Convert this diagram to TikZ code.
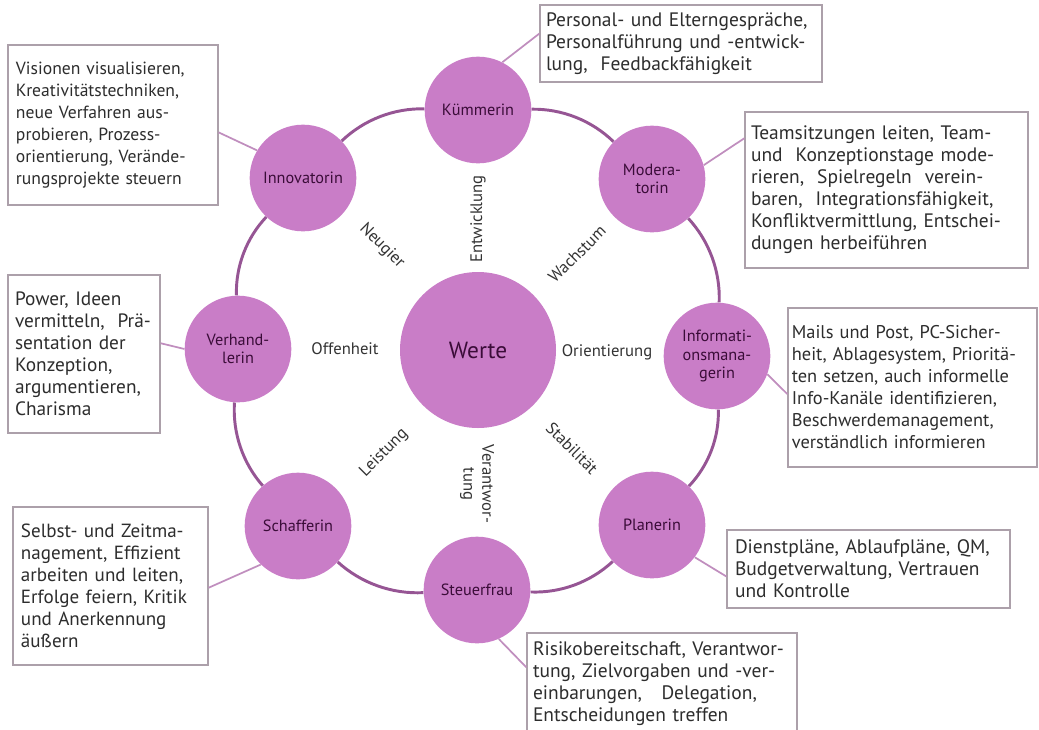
\documentclass[tikz,border=0pt]{standalone}
\usepackage{fontspec}
\setmainfont{PT Sans}
\definecolor{circfill}{RGB}{201,125,199}
\definecolor{ringcol}{RGB}{150,85,148}
\definecolor{linkcol}{RGB}{192,142,190}
\definecolor{boxcol}{RGB}{172,160,170}
\definecolor{circtext}{RGB}{58,12,56}
\definecolor{boxtext}{RGB}{45,45,45}
\tikzset{
  role/.style={circle, fill=circfill, minimum size=80pt, inner sep=0pt, text=circtext,
    font=\fontsize{12.2}{14}\selectfont, align=center},
  core/.style={circle, fill=circfill, minimum size=117pt, inner sep=0pt, text=circtext,
    font=\fontsize{17.5}{20}\selectfont},
  infobox/.style={draw=boxcol, line width=1pt, text=boxtext, fill=white,
    font=\fontsize{14.6}{16.5}\selectfont, align=left, inner sep=0pt},
  spoke/.style={text=black!80, font=\fontsize{12.5}{14}\selectfont, align=center, inner sep=1pt},
  ring/.style={draw=ringcol, line width=2.2pt, bend left=22.5, looseness=0.885},
  link/.style={draw=linkcol, line width=1.3pt},
}
\begin{document}
\begin{tikzpicture}[x=0.75pt, y=-0.75pt]
\useasboundingbox (0,0) rectangle (1039,729);

% centre
\node[core] (werte) at (478,350) {Werte};

% roles
\node[role] (kum) at (478,110) {Kümmerin};
\node[role] (mod) at (652,179) {Modera-\\torin};
\node[role] (inf) at (717,356) {Informati-\\onsmana-\\gerin};
\node[role] (pla) at (652,525) {Planerin};
\node[role] (ste) at (477,590) {Steuerfrau};
\node[role] (sch) at (298,526) {Schafferin};
\node[role] (ver) at (238,349) {Verhand-\\lerin};
\node[role] (inn) at (303,178) {Innovatorin};

% ring
\draw[ring] (kum) to (mod);
\draw[ring] (mod) to (inf);
\draw[ring] (inf) to (pla);
\draw[ring] (pla) to (ste);
\draw[ring] (ste) to (sch);
\draw[ring] (sch) to (ver);
\draw[ring] (ver) to (inn);
\draw[ring] (inn) to (kum);

% spoke labels
\node[spoke, rotate=90] (lEnt) at (478,219) {Entwicklung};
\node[spoke, rotate=45] (lWac) at (577,254) {Wachstum};
\node[spoke] (lOri) at (607,352) {Orientierung};
\node[spoke, rotate=-45] (lSta) at (572,448) {Stabilität};
\node[spoke, rotate=-90] (lVer) at (477,484) {Verantwor-\\tung};
\node[spoke, rotate=45] (lLei) at (384,453) {Leistung};
\node[spoke] (lOff) at (345,349) {Offenheit};
\node[spoke, rotate=-45] (lNeu) at (382,246) {Neugier};

% boxes
\node[infobox, font=\fontsize{13.2}{16.5}\selectfont, minimum width=157.5pt, minimum height=120pt, text width=145.5pt] (b1) at (113,125)
 {Visionen visualisieren,\\Kreativitätstechniken,\\neue Verfahren aus-\\probieren, Prozess-\\orientierung, Verände-\\rungsprojekte steuern};
\node[infobox, minimum width=211.5pt, minimum height=57.75pt, text width=202.5pt] (b2) at (681,43.5)
 {Personal- und Elterngespräche,\\Personalführung und -entwick-\\lung,\ \ Feedbackfähigkeit};
\node[infobox, minimum width=212.25pt, minimum height=117pt, text width=203.25pt] (b3) at (886.5,190)
 {Teamsitzungen leiten, Team-\\und\ \ Konzeptionstage mode-\\rieren,\ \ Spielregeln\ \ verein-\\baren,\ \ Integrationsfähigkeit,\\Konfliktvermittlung, Entschei-\\dungen herbeiführen};
\node[infobox, font=\fontsize{13.8}{16.5}\selectfont, minimum width=186.75pt, minimum height=119.25pt, text width=181pt] (b4) at (912.5,387.5)
 {Mails und Post, PC-Sicher-\\heit, Ablagesystem, Prioritä-\\ten setzen, auch informelle\\Info-Kanäle identifizieren,\\Beschwerdemanagement,\\verständlich informieren};
\node[infobox, font=\fontsize{14.5}{16.5}\selectfont, minimum width=114pt, minimum height=118.5pt, text width=103.5pt] (b5) at (84,354)
 {Power, Ideen\\vermitteln,\ \ Prä-\\sentation der\\Konzeption,\\argumentieren,\\Charisma};
\node[infobox, font=\fontsize{14.3}{16.5}\selectfont, minimum width=146.25pt, minimum height=118.5pt, text width=134.25pt] (b6) at (110.5,586)
 {Selbst- und Zeitma-\\nagement, Effizient\\arbeiten und leiten,\\Erfolge feiern, Kritik\\und Anerkennung\\äußern};
\node[infobox, minimum width=212.25pt, minimum height=58.5pt, text width=200.25pt] (b7) at (868.5,569)
 {Dienstpläne, Ablaufpläne, QM,\\Budgetverwaltung, Vertrauen\\und Kontrolle};
\node[infobox, minimum width=202.5pt, minimum height=76.5pt, text width=193.5pt] (b8) at (662,684)
 {Risikobereitschaft, Verantwor-\\tung, Zielvorgaben und -ver-\\einbarungen,\ \ \ Delegation,\\Entscheidungen treffen};

% links
\draw[link] (b1.-4) -- (inn.149);
\draw[link] (b2.176) -- (kum.63);
\draw[link] (b3.160) -- (mod.15);
\draw[link] (b4.183) -- (inf.-20);
\draw[link] (b5.8) -- (ver.180);
\draw[link] (b6.-1) -- (sch.-134);
\draw[link] (b7.183) -- (pla.-37);
\draw[link] (b8.173) -- (ste.-66);
\end{tikzpicture}
\end{document}
